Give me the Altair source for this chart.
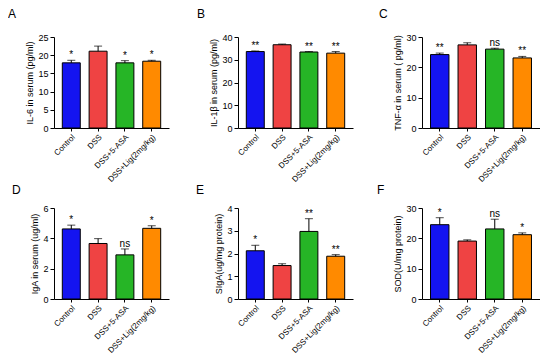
import altair as alt
import pandas as pd

groups = ["Control", "DSS", "DSS+5-ASA", "DSS+Lig(2mg/kg)"]
bar_colors = ["#1414f0", "#ef4343", "#26b526", "#ff8a00"]

il6_mean = [17.9, 21.1, 17.9, 18.35]
il6_upper = [18.6, 22.5, 18.5, 18.6]
il6_sig = ["*", "", "*", "*"]

il1b_mean = [33.6, 36.6, 33.4, 32.9]
il1b_upper = [33.9, 36.9, 33.6, 33.6]
il1b_sig = ["**", "", "**", "**"]

tnf_mean = [24.2, 27.4, 26.0, 23.1]
tnf_upper = [24.7, 28.1, 26.3, 23.6]
tnf_sig = ["**", "", "ns", "**"]

iga_mean = [4.62, 3.66, 2.91, 4.66]
iga_upper = [4.87, 3.98, 3.30, 4.83]
iga_sig = ["*", "", "ns", "*"]

siga_mean = [2.12, 1.47, 2.97, 1.88]
siga_upper = [2.36, 1.55, 3.53, 1.95]
siga_sig = ["*", "", "**", "**"]

sod_mean = [24.5, 19.1, 23.1, 21.2]
sod_upper = [26.8, 19.5, 26.3, 21.8]
sod_sig = ["*", "", "ns", "*"]

FONT = "Liberation Sans"
H = 91


def panel(letter, ytitle, mean, upper, sig, yvals, width, dx, dy):
    df = pd.DataFrame({"group": groups, "mean": mean, "upper": upper, "sig": sig})
    base = alt.Chart(df)
    x = alt.X("group:N", sort=groups,
              scale=alt.Scale(paddingInner=0.33, paddingOuter=0.31),
              axis=alt.Axis(title=None, labelAngle=-45, labelFontSize=8,
                            labelPadding=2, tickSize=3))
    yscale = alt.Scale(domain=[yvals[0], yvals[-1]], nice=False)
    yaxis = alt.Axis(title=ytitle, values=yvals, tickSize=4,
                     labelPadding=2, titlePadding=3,
                     labelOverlap=False, labelFlush=False)
    bars = base.mark_bar(stroke="black", strokeWidth=1).encode(
        x=x, y=alt.Y("mean:Q", scale=yscale, axis=yaxis),
        color=alt.Color("group:N", scale=alt.Scale(domain=groups, range=bar_colors), legend=None),
    )
    err = base.mark_rule(color="black", strokeWidth=1).encode(
        x=x, y=alt.Y("mean:Q", scale=yscale, axis=yaxis), y2="upper:Q")
    cap = base.mark_tick(color="black", size=8, thickness=1).encode(
        x=x, y=alt.Y("upper:Q", scale=yscale, axis=yaxis))
    txt = base.mark_text(dy=-2, baseline="alphabetic", fontSize=10, font=FONT, color="black").encode(
        x=x, y=alt.Y("upper:Q", scale=yscale, axis=yaxis), text="sig:N")
    lab = alt.Chart(pd.DataFrame({"letter": [letter]})).mark_text(
        align="left", baseline="alphabetic", fontSize=12, font=FONT, color="black"
    ).encode(x=alt.value(dx), y=alt.value(dy), text="letter:N")
    return alt.layer(bars, err, cap, txt, lab).properties(width=width, height=H)


pA = panel("A", "IL-6 in serum (pg/ml)", il6_mean, il6_upper, il6_sig, [0, 5, 10, 15, 20, 25], 115, -46, -19)
pB = panel("B", "IL-1β in serum (pg/ml)", il1b_mean, il1b_upper, il1b_sig, [0, 10, 20, 30, 40], 115, -41, -19)
pC = panel("C", "TNF-α in serum ( pg/ml)", tnf_mean, tnf_upper, tnf_sig, [0, 10, 20, 30], 118, -43, -19)
pD = panel("D", "IgA in serum (ug/ml)", iga_mean, iga_upper, iga_sig, [0, 2, 4, 6], 115, -42, -14)
pE = panel("E", "SIgA(ug/mg protein)", siga_mean, siga_upper, siga_sig, [0, 1, 2, 3, 4], 115, -42, -14)
pF = panel("F", "SOD(U/mg protein)", sod_mean, sod_upper, sod_sig, [0, 10, 20, 30], 118, -45, -14)

chart = alt.concat(pA, pB, pC, pD, pE, pF, columns=3,
                   spacing={"row": 80, "column": 69}, bounds="flush").properties(
    padding={"left": 0, "top": 0, "right": 0, "bottom": 0}
).configure_view(stroke=None).configure_axis(
    domainColor="black", tickColor="black", labelColor="black", titleColor="black",
    labelFont=FONT, titleFont=FONT, labelFontSize=9, titleFontSize=9,
    titleFontWeight="normal", grid=False, domainWidth=1, tickWidth=1,
)

chart.save("out.html", embed_options={"renderer": "svg", "actions": False})
